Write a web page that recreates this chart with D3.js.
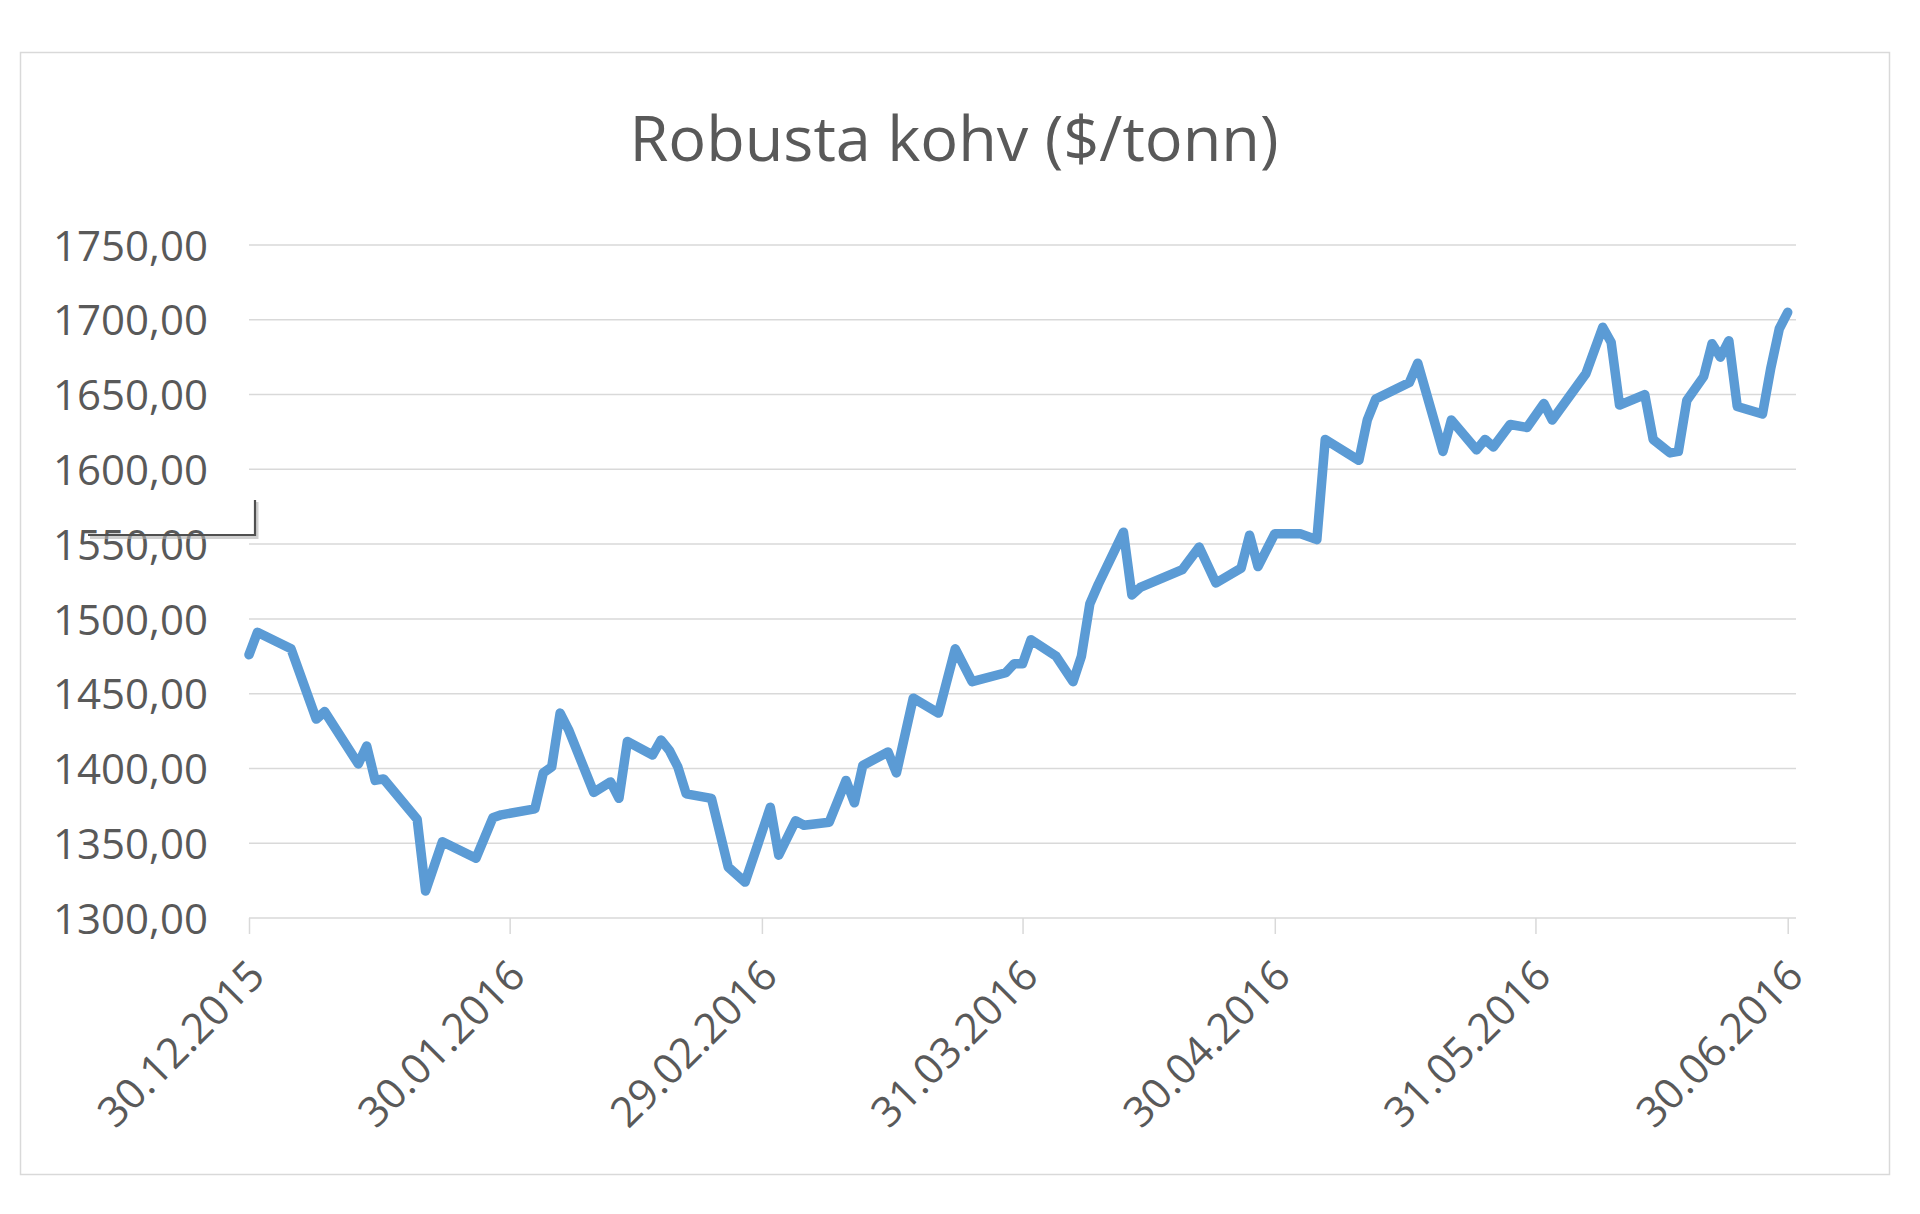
<!DOCTYPE html>
<html>
<head>
<meta charset="utf-8">
<script src="https://cdn.jsdelivr.net/npm/d3@7"></script>
<style>
  html, body { margin: 0; padding: 0; background: #ffffff; }
  svg { display: block; }
</style>
</head>
<body>
<svg id="chart" width="1920" height="1214"></svg>
<script>
// ---------- data ----------
const title = "Robusta kohv ($/tonn)";

const yTicks = [1300, 1350, 1400, 1450, 1500, 1550, 1600, 1650, 1700, 1750];
const yTickLabels = ["1300,00", "1350,00", "1400,00", "1450,00", "1500,00", "1550,00", "1600,00", "1650,00", "1700,00", "1750,00"];

const xTickDates = ["2015-12-30", "2016-01-30", "2016-02-29", "2016-03-31", "2016-04-30", "2016-05-31", "2016-06-30"];
const xTickLabels = ["30.12.2015", "30.01.2016", "29.02.2016", "31.03.2016", "30.04.2016", "31.05.2016", "30.06.2016"];

const dates = [
  "2015-12-30", "2015-12-31", "2016-01-04", "2016-01-07", "2016-01-08", "2016-01-12", "2016-01-13",
  "2016-01-14", "2016-01-15", "2016-01-19", "2016-01-20", "2016-01-22", "2016-01-26", "2016-01-28",
  "2016-01-29", "2016-02-02", "2016-02-03", "2016-02-04", "2016-02-05", "2016-02-06", "2016-02-09",
  "2016-02-11", "2016-02-12", "2016-02-13", "2016-02-16", "2016-02-17", "2016-02-18", "2016-02-19",
  "2016-02-20", "2016-02-23", "2016-02-25", "2016-02-27", "2016-03-01", "2016-03-02", "2016-03-04",
  "2016-03-05", "2016-03-08", "2016-03-10", "2016-03-11", "2016-03-12", "2016-03-15", "2016-03-16",
  "2016-03-18", "2016-03-21", "2016-03-23", "2016-03-25", "2016-03-29", "2016-03-30", "2016-03-31",
  "2016-04-01", "2016-04-04", "2016-04-06", "2016-04-07", "2016-04-08", "2016-04-09", "2016-04-12",
  "2016-04-13", "2016-04-14", "2016-04-19", "2016-04-21", "2016-04-23", "2016-04-26", "2016-04-27",
  "2016-04-28", "2016-04-30", "2016-05-03", "2016-05-05", "2016-05-06", "2016-05-10", "2016-05-11",
  "2016-05-12", "2016-05-16", "2016-05-17", "2016-05-20", "2016-05-21", "2016-05-24", "2016-05-25",
  "2016-05-26", "2016-05-28", "2016-05-30", "2016-06-01", "2016-06-02", "2016-06-06", "2016-06-08",
  "2016-06-09", "2016-06-10", "2016-06-13", "2016-06-14", "2016-06-16", "2016-06-17", "2016-06-18",
  "2016-06-20", "2016-06-21", "2016-06-22", "2016-06-23", "2016-06-24", "2016-06-27", "2016-06-28",
  "2016-06-29", "2016-06-30"
];

const prices = [
  1476, 1491, 1480, 1433, 1438, 1403, 1415,
  1392, 1393, 1366, 1318, 1351, 1340, 1367,
  1369, 1373, 1397, 1401, 1437, 1426, 1384,
  1391, 1380, 1418, 1409, 1419, 1412, 1401,
  1383, 1380, 1334, 1324, 1374, 1342, 1365,
  1362, 1364, 1392, 1377, 1402, 1411, 1397,
  1447, 1437, 1480, 1458, 1464, 1470, 1470,
  1486, 1475, 1458, 1475, 1510, 1523, 1558,
  1516, 1521, 1533, 1548, 1524, 1534, 1556,
  1535, 1557, 1557, 1553, 1620, 1606, 1633,
  1647, 1658, 1671, 1612, 1633, 1613, 1620,
  1615, 1630, 1628, 1644, 1633, 1664, 1695,
  1685, 1643, 1650, 1620, 1611, 1612, 1646,
  1662, 1684, 1675, 1686, 1642, 1637, 1668,
  1694, 1705
];

// ---------- layout ----------
const svg = d3.select("#chart");
const parse = d3.utcParse("%Y-%m-%d");
const series = dates.map((d, i) => ({ date: parse(d), value: prices[i] }));

const plot = { left: 249, right: 1796, top: 245, bottom: 918 };
const textColor = "#595959";
const gridColor = "#d9d9d9";
const font = "'Open Sans', 'Noto Sans', sans-serif";

const x = d3.scaleUtc()
  .domain([parse(xTickDates[0]), parse(xTickDates[xTickDates.length - 1])])
  .range([249, 1787.7]);

const y = d3.scaleLinear()
  .domain([1300, 1750])
  .range([plot.bottom, plot.top]);

// chart area border
svg.append("rect")
  .attr("x", 20.5).attr("y", 52.5)
  .attr("width", 1869).attr("height", 1122)
  .attr("fill", "#ffffff")
  .attr("stroke", "#d9d9d9")
  .attr("stroke-width", 1.5);

// title
svg.append("text")
  .attr("x", 954).attr("y", 161)
  .attr("text-anchor", "middle")
  .attr("font-family", font)
  .attr("font-size", 63)
  .attr("fill", textColor)
  .text(title);

// horizontal gridlines
svg.append("g").attr("class", "grid")
  .selectAll("line")
  .data(yTicks)
  .join("line")
  .attr("x1", plot.left).attr("x2", plot.right)
  .attr("y1", d => y(d)).attr("y2", d => y(d))
  .attr("stroke", gridColor)
  .attr("stroke-width", 1.5);

// y axis labels
const yAxis = d3.axisLeft(y)
  .tickValues(yTicks)
  .tickSize(0)
  .tickPadding(0)
  .tickFormat((d, i) => yTickLabels[i]);

const gy = svg.append("g")
  .attr("transform", `translate(208,0)`)
  .call(yAxis);
gy.select(".domain").remove();
gy.selectAll("text")
  .attr("font-family", font)
  .attr("font-size", 42)
  .attr("fill", textColor)
  .attr("dy", "0.36em")
  .attr("x", 0);

// x axis
const xAxis = d3.axisBottom(x)
  .tickValues(xTickDates.map(parse))
  .tickSize(16)
  .tickSizeOuter(0)
  .tickFormat((d, i) => xTickLabels[i]);

const gx = svg.append("g")
  .attr("transform", `translate(0,${plot.bottom})`)
  .call(xAxis);
gx.select(".domain").remove();
gx.selectAll(".tick line")
  .attr("stroke", gridColor)
  .attr("stroke-width", 1.5);
gx.selectAll(".tick text")
  .attr("font-family", font)
  .attr("font-size", 42)
  .attr("fill", textColor)
  .attr("text-anchor", "end")
  .attr("y", 0)
  .attr("dy", "0.72em")
  .attr("transform", "translate(-4,39) rotate(-45)");

// price line
const line = d3.line()
  .x(d => x(d.date))
  .y(d => y(d.value));

svg.append("path")
  .datum(series)
  .attr("d", line)
  .attr("fill", "none")
  .attr("stroke", "#5b9bd5")
  .attr("stroke-width", 9.5)
  .attr("stroke-linejoin", "round")
  .attr("stroke-linecap", "round");

// small selection-corner artifact near the 1550 label
svg.append("path")
  .attr("d", "M 90 537.5 H 257 V 502")
  .attr("fill", "none")
  .attr("stroke", "#b0b0b0")
  .attr("stroke-width", 3)
  .attr("opacity", 0.6);
svg.append("path")
  .attr("d", "M 88 535 H 255 V 500")
  .attr("fill", "none")
  .attr("stroke", "#505050")
  .attr("stroke-width", 2.2);
</script>
</body>
</html>
